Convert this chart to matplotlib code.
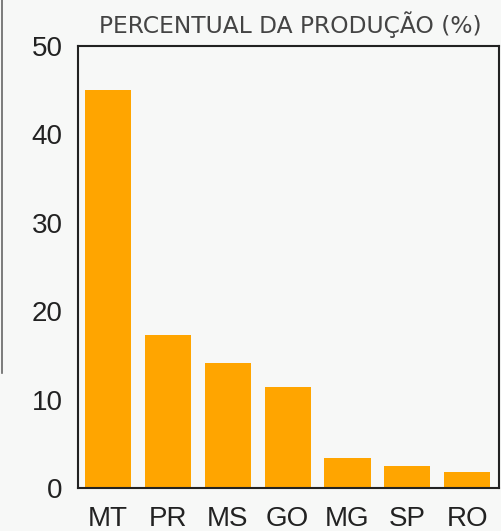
import matplotlib
matplotlib.use("Agg")
import matplotlib.pyplot as plt
from matplotlib.lines import Line2D

states = ["MT", "PR", "MS", "GO", "MG", "SP", "RO"]
percent = [45.0, 17.3, 14.1, 11.4, 3.4, 2.5, 1.8]
yticks = [0, 10, 20, 30, 40, 50]

BG = "#f7f8f7"
fig = plt.figure(figsize=(5.02, 5.31), dpi=100, facecolor=BG)
ax = fig.add_axes([78 / 502, 1 - 488 / 531, 421 / 502, 442 / 531], facecolor=BG)

ax.bar(range(len(states)), percent, width=0.77, color="#ffa500")
ax.set_xlim(-0.5, 6.53)
ax.set_ylim(0, 50)
ax.set_yticks(yticks)
ax.set_xticks(range(len(states)))
ax.set_xticklabels(states)
ax.tick_params(length=0, labelsize=20, labelcolor="#222222")
ax.tick_params(axis="y", pad=11)
ax.tick_params(axis="x", pad=13)
for lab in ax.get_xticklabels() + ax.get_yticklabels():
    lab.set_family("Liberation Sans")
for s in ax.spines.values():
    s.set_color("#222222")
    s.set_linewidth(1.5)

fig.text(290 / 502, 1 - 25 / 531, "PERCENTUAL DA PRODUÇÃO (%)", ha="center", va="center",
         fontsize=16.8, color="#444444", family="DejaVu Sans")

# leftover border from the cropped source image
fig.add_artist(Line2D([2.5 / 502, 2.5 / 502], [1, 1 - 373 / 531], color="#666666", lw=1.2))

fig.savefig("out.png", dpi=100, facecolor=BG)
